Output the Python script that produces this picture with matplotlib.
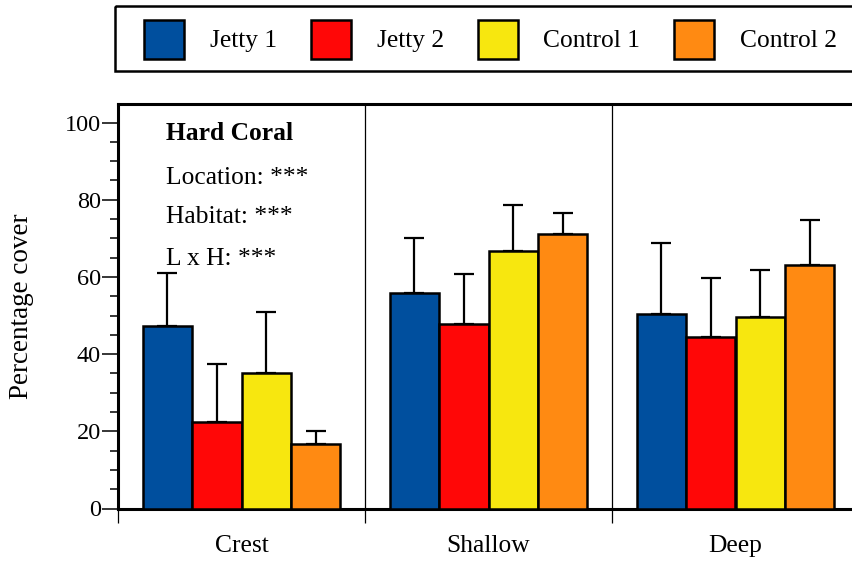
import matplotlib
matplotlib.use("Agg")
import matplotlib.pyplot as plt
from matplotlib.patches import Rectangle
import numpy as np

# ---- data -------------------------------------------------------------
habitats = ["Crest", "Shallow", "Deep"]
series = ["Jetty 1", "Jetty 2", "Control 1", "Control 2"]
colors = ["#004F9E", "#FF0707", "#F7E70F", "#FF8A12"]

jetty1 = [47.4, 55.9, 50.4]
jetty2 = [22.5, 47.9, 44.4]
control1 = [35.1, 66.8, 49.7]
control2 = [16.7, 71.2, 63.1]

jetty1_se = [13.5, 14.3, 18.3]
jetty2_se = [14.9, 12.9, 15.4]
control1_se = [15.8, 11.8, 12.1]
control2_se = [3.4, 5.4, 11.7]

means = [jetty1, jetty2, control1, control2]
errors = [jetty1_se, jetty2_se, control1_se, control2_se]

# ---- style ------------------------------------------------------------
FONT = "Liberation Serif"
FS = 18.4        # general text
FS_TICK = 17.5   # y tick numbers
plt.rcParams["font.family"] = FONT
plt.rcParams["font.size"] = FS

W, H, DPI = 853, 562, 100
fig = plt.figure(figsize=(W / DPI, H / DPI), dpi=DPI)

# main axes (right edge runs past the figure border)
left_px, right_px, top_px, bottom_px = 118, 859, 104, 508.5
ax = fig.add_axes([left_px / W, 1 - bottom_px / H,
                   (right_px - left_px) / W, (bottom_px - top_px) / H])

x = np.arange(len(habitats))
bw = 0.2
offsets = (np.arange(len(series)) - 1.5) * bw

for i, (name, col) in enumerate(zip(series, colors)):
    xs = x + offsets[i]
    ax.bar(xs, means[i], width=bw, color=col, edgecolor="black",
           linewidth=1.8, zorder=3, label=name)
    ax.errorbar(xs, means[i],
                yerr=[np.zeros(len(habitats)), errors[i]],
                fmt="none", ecolor="black", elinewidth=1.6,
                capsize=7.5, capthick=1.6, zorder=2)

ax.set_xlim(-0.5, 2.5)
ax.set_ylim(0, 104.8)

for s in ["left", "top", "bottom"]:
    ax.spines[s].set_linewidth(2.2)
ax.spines["right"].set_visible(False)

# y axis ticks
ax.set_yticks(np.arange(0, 101, 20))
ax.set_yticks(np.arange(0, 101, 5), minor=True)
ax.tick_params(axis="y", which="major", length=11.5, width=1.1,
               direction="out", pad=1, labelsize=FS_TICK)
ax.tick_params(axis="y", which="minor", length=6, width=1.1,
               direction="out")

# x axis: group boundaries as ticks, habitat names centred on groups
ax.set_xticks([-0.5, 0.5, 1.5])
ax.set_xticklabels([])
ax.tick_params(axis="x", which="major", length=10, width=0.9,
               direction="out")
ax.set_xticks(x, minor=True)
ax.set_xticklabels(habitats, minor=True)
ax.tick_params(axis="x", which="minor", length=0, pad=19, labelsize=FS)

# thin dividers between habitats
for b in [0.5, 1.5]:
    ax.axvline(b, color="black", linewidth=0.9, zorder=1)

ax.set_ylabel("Percentage cover", fontsize=19.5)
ax.yaxis.set_label_coords(-0.114, 0.5)

# panel annotation
ax.text(-0.3057, 95.5, "Hard Coral", fontsize=FS, fontweight="bold",
        va="baseline", ha="left")
for yv, s in zip([84.2, 73.9, 63.1],
                 ["Location: ***", "Habitat: ***", "L x H: ***"]):
    ax.text(-0.3057, yv, s, fontsize=FS, va="baseline", ha="left")

# ---- legend box across the top ---------------------------------------
lax = fig.add_axes([0, 0, 1, 1], zorder=5)
lax.set_xlim(0, W)
lax.set_ylim(H, 0)
lax.axis("off")
lax.patch.set_alpha(0)

renderer = fig.canvas.get_renderer()
box_left, box_top, box_bot = 115, 6, 71
pad_x = 29.5
hw, hh, htop = 40, 39.5, 19.5
text_gap = 25.5
col_gap = 34
cx = box_left + pad_x
for name, col in zip(series, colors):
    lax.add_patch(Rectangle((cx, htop), hw, hh, facecolor=col,
                            edgecolor="black", linewidth=1.8))
    t = lax.text(cx + hw + text_gap, 47, name, fontsize=FS,
                 va="baseline", ha="left")
    tw = t.get_window_extent(renderer).width
    cx = cx + hw + text_gap + tw + col_gap
box_right = cx - col_gap + pad_x
lax.add_patch(Rectangle((box_left, box_top), box_right - box_left,
                        box_bot - box_top, facecolor="none",
                        edgecolor="black", linewidth=1.8))

fig.savefig("out.png", dpi=DPI)
